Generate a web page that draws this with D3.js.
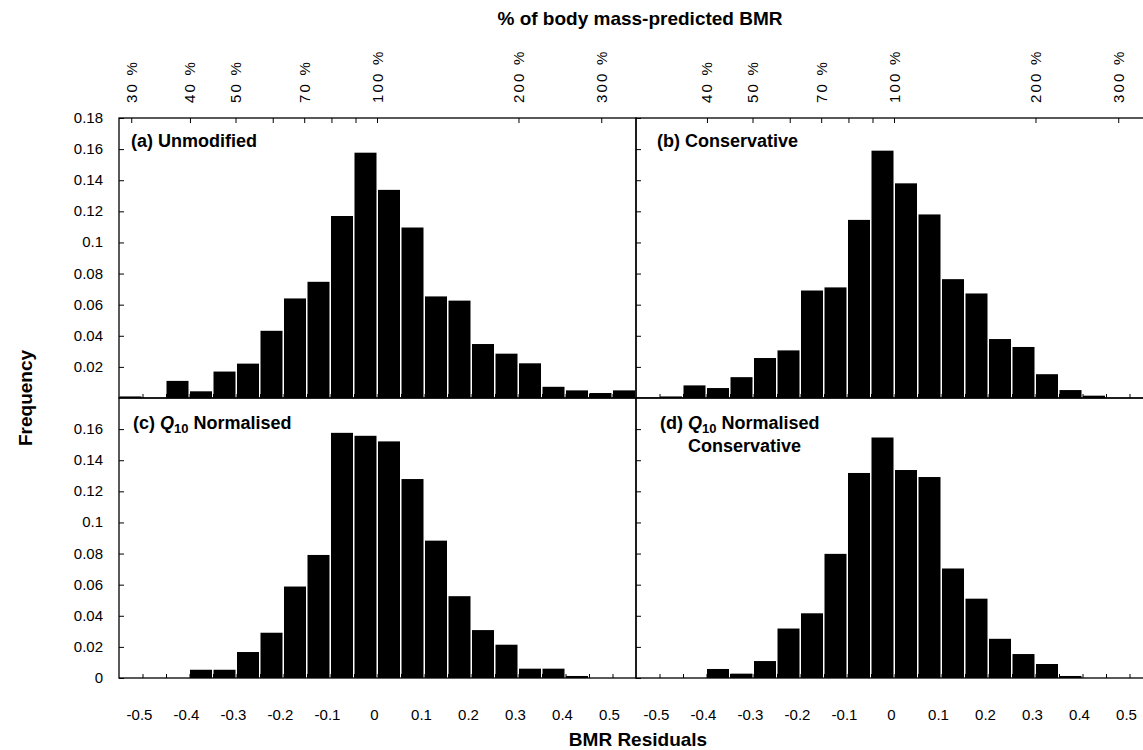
<!DOCTYPE html>
<html>
<head>
    <script src="https://d3js.org/d3.v7.min.js"></script>
    <title>BMR Residuals</title>
    <style>
        body { margin: 0; background: #fff; }
        svg text { font-family: "Liberation Sans", Arial, sans-serif; fill: #000; }
    </style>
</head>
<body>
    <div id="chart"></div>
    <script>
        // left edge of each 0.05-wide bin
        var binLefts = [-0.55, -0.50, -0.45, -0.40, -0.35, -0.30, -0.25, -0.20, -0.15, -0.10, -0.05,
                        0.00, 0.05, 0.10, 0.15, 0.20, 0.25, 0.30, 0.35, 0.40, 0.45, 0.50];

        // frequencies
        var unmodified = [0.001, 0, 0.011, 0.0043, 0.017, 0.0221, 0.0432, 0.064, 0.0747, 0.117, 0.1577,
                          0.1338, 0.1096, 0.0653, 0.0626, 0.0347, 0.0285, 0.0223, 0.0072, 0.0049, 0.0032, 0.0049];
        var conservative = [0.0003, 0.001, 0.0081, 0.0064, 0.0134, 0.0257, 0.0306, 0.0691, 0.0711, 0.1145, 0.159,
                            0.138, 0.118, 0.0764, 0.0672, 0.0379, 0.0328, 0.0153, 0.0051, 0.0015, 0, 0];
        var q10Normalised = [0, 0, 0, 0.0053, 0.0053, 0.0167, 0.0291, 0.0588, 0.0791, 0.1576, 0.1557,
                             0.1521, 0.1279, 0.0883, 0.0526, 0.0308, 0.0214, 0.006, 0.006, 0.0013, 0, 0];
        var q10Conservative = [0, 0, 0, 0.0058, 0.0028, 0.0109, 0.0318, 0.0416, 0.0798, 0.1318, 0.1546,
                               0.1337, 0.1292, 0.0704, 0.051, 0.0252, 0.0154, 0.009, 0.0013, 0, 0, 0];

        var xTicks = [-0.5, -0.4, -0.3, -0.2, -0.1, 0, 0.1, 0.2, 0.3, 0.4, 0.5];
        var yTicksUpper = [0.02, 0.04, 0.06, 0.08, 0.1, 0.12, 0.14, 0.16, 0.18];
        var yTicksLower = [0, 0.02, 0.04, 0.06, 0.08, 0.1, 0.12, 0.14, 0.16];
        var pctLabelsLeft = [30, 40, 50, 70, 100, 200, 300];
        var pctLabelsRight = [40, 50, 70, 100, 200, 300];
        var pctMinor = [60, 80, 90];

        var width = 1143, height = 750;
        var pw = 517, ph = 280;

        var svg = d3.select('#chart').append('svg')
            .attr('width', width)
            .attr('height', height);

        var panels = [
            {data: unmodified, px: 119, py: 118, yTicks: yTicksUpper, labels: true, pct: pctLabelsLeft},
            {data: conservative, px: 636, py: 118, yTicks: yTicksUpper, labels: false, pct: pctLabelsRight},
            {data: q10Normalised, px: 119, py: 398, yTicks: yTicksLower, labels: true, pct: null},
            {data: q10Conservative, px: 636, py: 398, yTicks: yTicksLower, labels: false, pct: null}
        ];

        panels.forEach(function(p, idx) {
            var x = d3.scaleLinear().domain([-0.55, 0.55]).range([p.px, p.px + pw]);
            var y = d3.scaleLinear().domain([0, 0.18]).range([p.py + ph, p.py]);
            var g = svg.append('g');

            // bars
            g.selectAll('rect.bar')
                .data(p.data.map(function(v, i) { return {x0: binLefts[i], v: v}; }))
                .enter().append('rect')
                .attr('class', 'bar')
                .attr('x', function(d) { return x(d.x0) + 0.5; })
                .attr('width', function(d) { return x(d.x0 + 0.05) - x(d.x0) - 1.5; })
                .attr('y', function(d) { return y(d.v); })
                .attr('height', function(d) { return y(0) - y(d.v); })
                .attr('fill', '#000');

            // frame
            g.append('rect')
                .attr('x', p.px).attr('y', p.py)
                .attr('width', pw).attr('height', ph)
                .attr('fill', 'none').attr('stroke', '#000').attr('stroke-width', 1.3);

            // y ticks (inward)
            var yAxis = d3.axisRight(y).tickValues(p.yTicks).tickSize(5).tickFormat('');
            g.append('g').attr('transform', 'translate(' + p.px + ',0)').call(yAxis)
                .call(function(a) { a.select('.domain').remove(); });

            if (p.labels) {
                g.selectAll('text.ylab')
                    .data(p.yTicks)
                    .enter().append('text')
                    .attr('class', 'ylab')
                    .attr('x', p.px - 16)
                    .attr('y', function(d) { return y(d) + 5; })
                    .attr('text-anchor', 'end')
                    .attr('font-size', 15)
                    .text(function(d) { return d === 0 ? '0' : d3.format('')(+d.toFixed(2)); });
            }

            // x ticks (inward, every bin)
            var xAxis = d3.axisTop(x).tickValues(binLefts.slice(1)).tickSize(4).tickFormat('');
            g.append('g').attr('transform', 'translate(0,' + (p.py + ph) + ')').call(xAxis)
                .call(function(a) { a.select('.domain').remove(); });

            if (idx >= 2) {
                g.selectAll('text.xlab')
                    .data(xTicks)
                    .enter().append('text')
                    .attr('class', 'xlab')
                    .attr('x', function(d) { return x(d) - 3; })
                    .attr('y', 720)
                    .attr('text-anchor', 'middle')
                    .attr('font-size', 15)
                    .text(function(d) { return d3.format('')(d).replace('−', '-'); });
            }

            // top percentage axis (log scale of residual)
            if (p.pct) {
                var all = p.pct.concat(pctMinor);
                g.selectAll('line.pt')
                    .data(all)
                    .enter().append('line')
                    .attr('x1', function(d) { return x(Math.log10(d / 100)); })
                    .attr('x2', function(d) { return x(Math.log10(d / 100)); })
                    .attr('y1', p.py).attr('y2', p.py + 5)
                    .attr('stroke', '#000');
                g.selectAll('text.pl')
                    .data(p.pct)
                    .enter().append('text')
                    .attr('transform', function(d) {
                        return 'translate(' + (x(Math.log10(d / 100)) + 5) + ',' + (p.py - 15) + ') rotate(-90)';
                    })
                    .attr('text-anchor', 'start')
                    .attr('font-size', 15)
                    .attr('letter-spacing', 2.2)
                    .text(function(d) { return d + ' %'; });
            }
        });

        // panel titles
        var titles = svg.append('g').attr('font-weight', 'bold').attr('font-size', 18);
        titles.append('text').attr('x', 131).attr('y', 147).text('(a) Unmodified').attr('font-weight', 'bold');
        titles.append('text').attr('x', 657).attr('y', 147).text('(b) Conservative').attr('font-weight', 'bold');

        var tc = titles.append('text').attr('x', 133).attr('y', 429).attr('font-weight', 'bold');
        tc.append('tspan').text('(c) ');
        tc.append('tspan').attr('font-style', 'italic').text('Q');
        tc.append('tspan').attr('font-size', 13).attr('dy', 4).text('10');
        tc.append('tspan').attr('dy', -4).text(' Normalised');

        var td = titles.append('text').attr('x', 660).attr('y', 429).attr('font-weight', 'bold');
        td.append('tspan').text('(d) ');
        td.append('tspan').attr('font-style', 'italic').text('Q');
        td.append('tspan').attr('font-size', 13).attr('dy', 4).text('10');
        td.append('tspan').attr('dy', -4).text(' Normalised');
        titles.append('text').attr('x', 688).attr('y', 452).attr('font-weight', 'bold').text('Conservative');

        // axis titles
        svg.append('text').attr('x', 640).attr('y', 25)
            .attr('text-anchor', 'middle').attr('font-size', 19).attr('font-weight', 'bold')
            .text('% of body mass-predicted BMR');
        svg.append('text').attr('x', 638).attr('y', 746)
            .attr('text-anchor', 'middle').attr('font-size', 19).attr('font-weight', 'bold')
            .text('BMR Residuals');
        svg.append('text')
            .attr('transform', 'translate(32,398) rotate(-90)')
            .attr('text-anchor', 'middle').attr('font-size', 19).attr('font-weight', 'bold')
            .text('Frequency');
    </script>
</body>
</html>
